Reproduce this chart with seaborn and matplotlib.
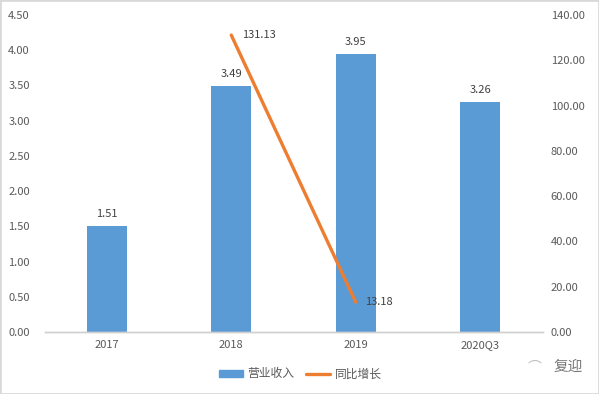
import matplotlib
matplotlib.use("Agg")
import matplotlib.pyplot as plt
from matplotlib.patches import Patch, Rectangle
from matplotlib.lines import Line2D
import numpy as np
import pandas as pd
import seaborn as sns

years = ["2017", "2018", "2019", "2020Q3"]
revenue = [1.51, 3.49, 3.95, 3.26]
growth = [np.nan, 131.13, 13.18, np.nan]
left_ticks = [0, 0.5, 1, 1.5, 2, 2.5, 3, 3.5, 4, 4.5]
right_ticks = [0, 20, 40, 60, 80, 100, 120, 140]

sns.set_theme(style="white")
plt.rcParams['font.family'] = ['Noto Sans CJK SC', 'DejaVu Sans']

BLUE = "#5b9bd5"
ORANGE = "#ed7d31"
GRAY = "#595959"

df = pd.DataFrame({"year": years, "revenue": revenue, "growth": growth})

fig = plt.figure(figsize=(5.99, 3.94), dpi=100)
ax = fig.add_axes([44.5 / 599, 1 - 332 / 394, 498 / 599, 317 / 394])

sns.barplot(data=df, x="year", y="revenue", color=BLUE, saturation=1, width=0.32, linewidth=0, ax=ax)
ax.set_ylim(0, 4.5)
ax.set_xlim(-0.5, 3.5)
ax.set_yticks(left_ticks)
ax.set_yticklabels([f"{t:.2f}" for t in left_ticks])
ax.set_xlabel("")
ax.set_ylabel("")
ax.bar_label(ax.containers[0], fmt="%.2f", padding=5, fontsize=8, color="#404040")

ax2 = ax.twinx()
sns.lineplot(data=df, x="year", y="growth", color=ORANGE, linewidth=2.4, ax=ax2, sort=False)
ax2.set_ylim(0, 140)
ax2.set_yticks(right_ticks)
ax2.set_yticklabels([f"{t:.2f}" for t in right_ticks])
ax2.set_xlabel("")
ax2.set_ylabel("")
ax2.annotate(f"{growth[1]:.2f}", (1, growth[1]), xytext=(8, 0), textcoords="offset points",
             fontsize=8, color="#404040", va="center")
ax2.annotate(f"{growth[2]:.2f}", (2, growth[2]), xytext=(7, 0), textcoords="offset points",
             fontsize=8, color="#404040", va="center")

for a in (ax, ax2):
    a.tick_params(axis="both", length=0, labelsize=8, labelcolor=GRAY)
    for s in ("top", "left", "right"):
        a.spines[s].set_visible(False)
    a.spines["bottom"].set_color("#d0d0d0")
    a.spines["bottom"].set_linewidth(1)
ax.tick_params(axis="x", pad=6)
ax.tick_params(axis="y", pad=10.5)
ax2.tick_params(axis="y", pad=6)

handles = [Patch(color=BLUE, label="营业收入"), Line2D([], [], color=ORANGE, lw=2.4, label="同比增长")]
fig.legend(handles=handles, loc="center", bbox_to_anchor=(300.5 / 599, 1 - 374 / 394), ncol=2, frameon=False,
           fontsize=8.5, labelcolor=GRAY, handlelength=2.0, handleheight=0.5, columnspacing=1.0, handletextpad=0.4)

# watermark
fig.text(568 / 599, 1 - 367 / 394, "复迎", fontsize=10.5, color="#777777", ha="center", va="center")
fig.text(535 / 599, 1 - 367 / 394, "⌒", fontsize=10, color="#bbbbbb", ha="center", va="center")

# thin frame round the screenshot
fig.add_artist(Rectangle((0, 0), 1, 1, transform=fig.transFigure, fill=False, edgecolor="#d9d9d9", linewidth=2))

fig.savefig("out.png", dpi=100)
